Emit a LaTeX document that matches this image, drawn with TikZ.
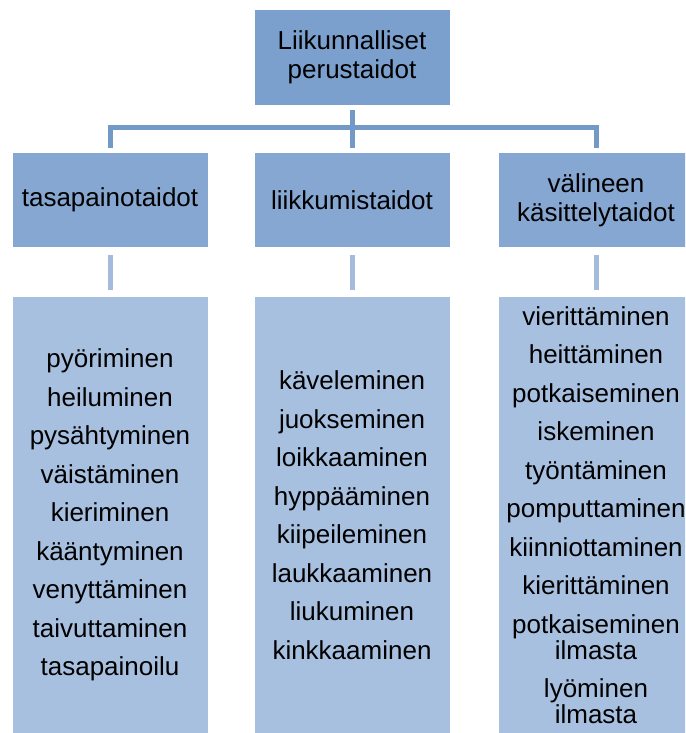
\documentclass[tikz,border=0pt]{standalone}
\usepackage{fontspec}
\setmainfont{Liberation Sans}
\usepackage{tikz}

\definecolor{topblue}{HTML}{7BA0CD}
\definecolor{midblue}{HTML}{85A7D1}
\definecolor{lowblue}{HTML}{A8C0E0}
\definecolor{linedark}{HTML}{7399C6}
\definecolor{linelight}{HTML}{A5BBDC}

\begin{document}
\begin{tikzpicture}[x=1pt, y=-1pt,
  box/.style={fill=#1, draw=none, align=center, inner sep=0pt,
    minimum width=195pt, font=\fontsize{26}{29}\selectfont},
  conn/.style={draw=linedark, line width=5pt},
  conn2/.style={draw=linelight, line width=5pt}]
\useasboundingbox (0,0) rectangle (685,733);
\clip (0,0) rectangle (685,733);

% top level
\node[box=topblue, minimum height=95pt] (top) at (352,57.5) {Liikunnalliset\\perustaidot};

% second level
\node[box=midblue, minimum height=94pt] (b1) at (110,200) {tasapainotaidot};
\node[box=midblue, minimum height=94pt] (b2) at (352,200) {liikkumistaidot};
\node[box=midblue, minimum height=94pt] (b3) at (596,200) {välineen\\käsittelytaidot};

% lists
\node[box=lowblue, minimum height=436pt, font=\fontsize{26}{26}\selectfont] (l1) at (110,515)
  {pyöriminen\\[12.5pt] heiluminen\\[12.5pt] pysähtyminen\\[12.5pt] väistäminen\\[12.5pt]
   kieriminen\\[12.5pt] kääntyminen\\[12.5pt] venyttäminen\\[12.5pt] taivuttaminen\\[12.5pt]
   tasapainoilu};
\node[box=lowblue, minimum height=436pt, font=\fontsize{26}{26}\selectfont] (l2) at (352,515)
  {käveleminen\\[12.5pt] juokseminen\\[12.5pt] loikkaaminen\\[12.5pt] hyppääminen\\[12.5pt]
   kiipeileminen\\[12.5pt] laukkaaminen\\[12.5pt] liukuminen\\[12.5pt] kinkkaaminen};
\node[box=lowblue, minimum height=436pt, font=\fontsize{26}{26}\selectfont] (l3) at (596,515)
  {vierittäminen\\[12.5pt] heittäminen\\[12.5pt] potkaiseminen\\[12.5pt] iskeminen\\[12.5pt]
   työntäminen\\[12.5pt] pomputtaminen\\[12.5pt] kiinniottaminen\\[12.5pt] kierittäminen\\[12.5pt]
   potkaiseminen\\ ilmasta\\[12.5pt] lyöminen\\ ilmasta};

% connectors
\coordinate (hub) at (352,128);
\draw[conn, shorten <=5pt] (top.south) -- (hub);
\draw[conn] ([xshift=-2.5pt]b1.north |- hub) -- ([xshift=2.5pt]b3.north |- hub);
\foreach \b in {b1,b2,b3}
  \draw[conn, shorten >=5pt] (\b.north |- hub) -- (\b.north);
\draw[conn2, shorten <=8pt, shorten >=7pt] (b1.south) -- (l1.north);
\draw[conn2, shorten <=8pt, shorten >=7pt] (b2.south) -- (l2.north);
\draw[conn2, shorten <=8pt, shorten >=7pt] (b3.south) -- (l3.north);
\end{tikzpicture}
\end{document}
